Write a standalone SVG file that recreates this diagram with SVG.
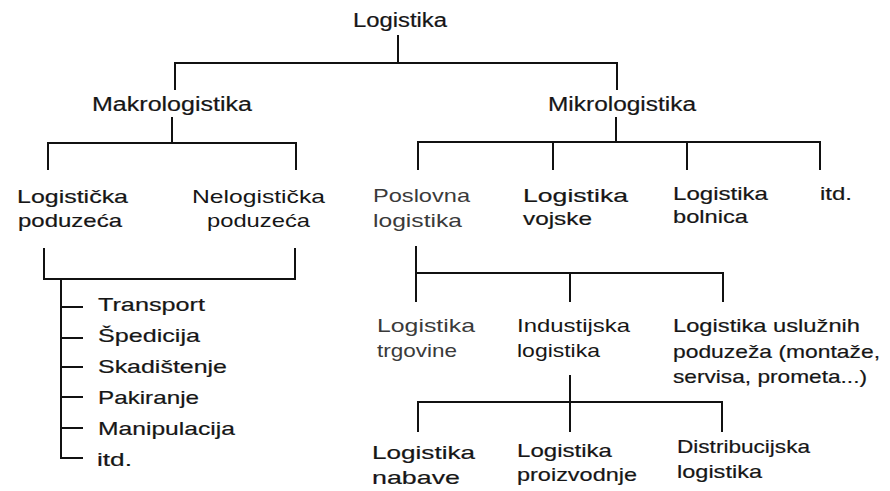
<svg xmlns="http://www.w3.org/2000/svg" width="890" height="491" viewBox="0 0 890 491">
<style>
text{font-family:"Liberation Sans",Arial,sans-serif;font-size:19px;fill:#161616;stroke:#161616;stroke-width:0.2px}
.lt{fill:#3a3a3a;stroke:none}
.nm{stroke:none}
.big{font-size:19.5px}
#connectors path{fill:none;stroke:#111;stroke-width:2}
</style>
<rect width="890" height="491" fill="#fff"/>
<g id="connectors">
<path d="M398,35 V63 M175,90 V63 H617 V90"/>
<path d="M172,117 V143 M48,170 V143 H296 V170"/>
<path d="M616,117 V142 M418,170 V142 H820 V170 M553,142 V170 M687,142 V170"/>
<path d="M44,248 V279 H295 V248"/>
<path d="M61,279 V458 H83 M61,307 H83 M61,338 H83 M61,367 H83 M61,397 H83 M61,428 H83"/>
<path d="M416,246 V302 M416,273 H723 V302 M570,273 V302"/>
<path d="M570,375 V432 M418,432 V402 H722 V432"/>
</g>
<g id="logistika"><text class="big" x="353" y="27" textLength="94" lengthAdjust="spacingAndGlyphs">Logistika</text></g>
<g id="makrologistika"><text class="big" x="92" y="111" textLength="160" lengthAdjust="spacingAndGlyphs">Makrologistika</text></g>
<g id="mikrologistika"><text class="big" x="548" y="111" textLength="148" lengthAdjust="spacingAndGlyphs">Mikrologistika</text></g>
<g id="logisticka-poduzeca">
<text x="17" y="203" textLength="111" lengthAdjust="spacingAndGlyphs">Logistička</text>
<text x="18" y="227" textLength="104" lengthAdjust="spacingAndGlyphs">poduzeća</text>
</g>
<g id="nelogisticka-poduzeca">
<text class="nm" x="192" y="203" textLength="133" lengthAdjust="spacingAndGlyphs">Nelogistička</text>
<text class="nm" x="207" y="227" textLength="103" lengthAdjust="spacingAndGlyphs">poduzeća</text>
</g>
<g id="poslovna-logistika">
<text class="lt" x="373" y="202" textLength="97" lengthAdjust="spacingAndGlyphs">Poslovna</text>
<text class="lt" x="373" y="227" textLength="89" lengthAdjust="spacingAndGlyphs">logistika</text>
</g>
<g id="logistika-vojske">
<text x="523" y="202" textLength="105" lengthAdjust="spacingAndGlyphs">Logistika</text>
<text x="523" y="225" textLength="69" lengthAdjust="spacingAndGlyphs">vojske</text>
</g>
<g id="logistika-bolnica">
<text x="673" y="200" textLength="95" lengthAdjust="spacingAndGlyphs">Logistika</text>
<text x="673" y="223" textLength="75" lengthAdjust="spacingAndGlyphs">bolnica</text>
</g>
<g id="itd-mikro"><text x="820" y="200" textLength="32" lengthAdjust="spacingAndGlyphs">itd.</text></g>
<g id="transport"><text x="98" y="311" textLength="107" lengthAdjust="spacingAndGlyphs">Transport</text></g>
<g id="spedicija"><text x="98" y="342" textLength="102" lengthAdjust="spacingAndGlyphs">Špedicija</text></g>
<g id="skladistenje"><text x="98" y="373" textLength="129" lengthAdjust="spacingAndGlyphs">Skadištenje</text></g>
<g id="pakiranje"><text x="98" y="404" textLength="101" lengthAdjust="spacingAndGlyphs">Pakiranje</text></g>
<g id="manipulacija"><text x="98" y="435" textLength="137" lengthAdjust="spacingAndGlyphs">Manipulacija</text></g>
<g id="itd-makro"><text x="97" y="466" textLength="35" lengthAdjust="spacingAndGlyphs">itd.</text></g>
<g id="logistika-trgovine">
<text class="lt" x="377" y="332" textLength="98" lengthAdjust="spacingAndGlyphs">Logistika</text>
<text class="lt" x="377" y="357" textLength="80" lengthAdjust="spacingAndGlyphs">trgovine</text>
</g>
<g id="industijska-logistika">
<text class="nm" x="517" y="332" textLength="113" lengthAdjust="spacingAndGlyphs">Industijska</text>
<text class="nm" x="517" y="357" textLength="83" lengthAdjust="spacingAndGlyphs">logistika</text>
</g>
<g id="logistika-usluznih">
<text x="673" y="332" textLength="187" lengthAdjust="spacingAndGlyphs">Logistika uslužnih</text>
<text x="673" y="358" textLength="207" lengthAdjust="spacingAndGlyphs">poduzeža (montaže,</text>
<text x="673" y="383" textLength="194" lengthAdjust="spacingAndGlyphs">servisa, prometa...)</text>
</g>
<g id="logistika-nabave">
<text x="372" y="459" textLength="103" lengthAdjust="spacingAndGlyphs">Logistika</text>
<text x="372" y="484" textLength="88" lengthAdjust="spacingAndGlyphs">nabave</text>
</g>
<g id="logistika-proizvodnje">
<text x="517" y="457" textLength="95" lengthAdjust="spacingAndGlyphs">Logistika</text>
<text x="517" y="481" textLength="120" lengthAdjust="spacingAndGlyphs">proizvodnje</text>
</g>
<g id="distribucijska-logistika">
<text x="677" y="453" textLength="133" lengthAdjust="spacingAndGlyphs">Distribucijska</text>
<text x="677" y="478" textLength="85" lengthAdjust="spacingAndGlyphs">logistika</text>
</g>
</svg>
